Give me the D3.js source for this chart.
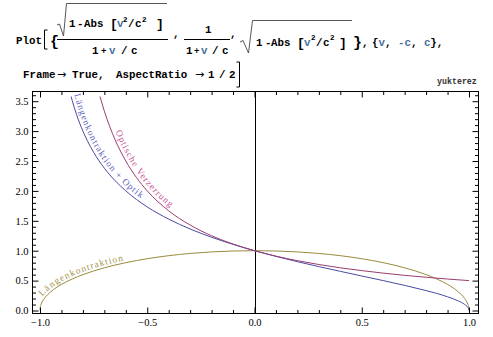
<!DOCTYPE html>
<html>
<head>
<meta charset="utf-8">
<script src="https://cdn.jsdelivr.net/npm/d3@7"></script>
<style>
  body { margin: 0; background: #fff; }
  svg { display: block; }
</style>
</head>
<body>
<svg id="chart" width="493" height="337"></svg>
<script>
// curve values (v in units of c)
const olivV = [-1, -0.999, -0.995, -0.98, -0.95, -0.9, -0.85, -0.8, -0.7, -0.6, -0.5, -0.4, -0.3, -0.2, -0.1, 0,
  0.1, 0.2, 0.3, 0.4, 0.5, 0.6, 0.7, 0.8, 0.85, 0.9, 0.95, 0.98, 0.995, 0.999, 1];
const olivY = [0, 0.045, 0.100, 0.199, 0.312, 0.436, 0.527, 0.6, 0.714, 0.8, 0.866, 0.917, 0.954, 0.980, 0.995, 1,
  0.995, 0.980, 0.954, 0.917, 0.866, 0.8, 0.714, 0.6, 0.527, 0.436, 0.312, 0.199, 0.100, 0.045, 0];

const blueV = [-0.87, -0.85, -0.83, -0.8, -0.78, -0.75, -0.7, -0.65, -0.6, -0.55, -0.5, -0.4, -0.3, -0.2, -0.1, 0,
  0.1, 0.2, 0.3, 0.4, 0.5, 0.6, 0.7, 0.8, 0.85, 0.9, 0.95, 0.98, 0.995, 0.999, 1];
const blueY = [3.793, 3.512, 3.281, 3, 2.845, 2.646, 2.380, 2.171, 2, 1.856, 1.732, 1.528, 1.363, 1.225, 1.106, 1,
  0.905, 0.816, 0.734, 0.655, 0.577, 0.5, 0.420, 0.333, 0.285, 0.229, 0.160, 0.1005, 0.050, 0.022, 0];

const pinkV = [-0.73, -0.7, -0.65, -0.6, -0.55, -0.5, -0.4, -0.3, -0.2, -0.1, 0,
  0.1, 0.2, 0.3, 0.4, 0.5, 0.6, 0.7, 0.8, 0.9, 1];
const pinkY = [3.704, 3.333, 2.857, 2.5, 2.222, 2, 1.667, 1.429, 1.25, 1.111, 1,
  0.909, 0.833, 0.769, 0.714, 0.667, 0.625, 0.588, 0.556, 0.526, 0.5];

const xMajor = [-1, -0.5, 0, 0.5, 1];
const yMajor = [0, 0.5, 1, 1.5, 2, 2.5, 3, 3.5];
const yClip = 3.58;

const svg = d3.select("#chart");
const serif = "'Liberation Serif', 'Times New Roman', serif";
const mono = "'Liberation Mono', 'DejaVu Sans Mono', monospace";

// ---- input cell -------------------------------------------------------
const ink = "#000", sym = "#4a6f9a";
const cell = svg.append("g").attr("font-family", mono).attr("font-weight", "bold").attr("font-size", 10.8);
function put(x, y, s, color, size) {
  return cell.append("text").attr("x", x).attr("y", y).attr("fill", color || ink)
    .attr("font-size", size || null).text(s);
}
function arrow(x, y) {
  put(x, y, "→", ink, 11).attr("font-family", "'DejaVu Sans', sans-serif").attr("font-weight", "normal");
}
put(16, 44, "Plot");
cell.append("path").attr("d", "M47.5,30 H44.5 V49 H47.5").attr("fill", "none").attr("stroke", "#000");
put(50, 46, "{", ink, 15);
// sqrt numerator / (1 + v/c)
cell.append("path").attr("d", "M57,25 L59.5,24 L63.5,36 L66.5,3.5 H167").attr("fill", "none").attr("stroke", "#444").attr("stroke-width", 0.9);
put(69, 27, "1"); put(77, 27, "-"); put(84, 27, "Abs"); put(110, 28, "[", ink, 13);
put(117, 27, "v", sym); put(123, 22, "2", ink, 7.5); put(128, 27, "/"); put(135, 27, "c"); put(142, 22, "2", ink, 7.5);
put(156, 28, "]", ink, 13);
cell.append("path").attr("d", "M57,39.5 H168").attr("stroke", "#000");
put(92, 54, "1"); put(101, 54, "+", ink, 9); put(109, 54, "v", sym); put(121, 54, "/"); put(131, 54, "c");
put(173, 37, ",");
// 1/(1 + v/c)
put(205, 33, "1");
cell.append("path").attr("d", "M184,39.5 H230").attr("stroke", "#000");
put(186, 54, "1"); put(194, 54, "+", ink, 9); put(201, 54, "v", sym); put(212, 54, "/"); put(222, 54, "c");
put(230, 37, ",");
// sqrt(1 - Abs[v^2/c^2])
cell.append("path").attr("d", "M240,42 L243,40.5 L248.5,53 L252.5,20.5 H352").attr("fill", "none").attr("stroke", "#444").attr("stroke-width", 0.9);
put(256, 46, "1"); put(265, 46, "-"); put(271, 46, "Abs"); put(297, 47, "[", ink, 13);
put(304, 46, "v", sym); put(311, 40, "2", ink, 7.5); put(316, 46, "/"); put(323, 46, "c"); put(330, 40, "2", ink, 7.5);
put(339, 47, "]", ink, 13);
put(353, 47, "}", ink, 15); put(362, 46, ",");
cell.append("text").attr("x", 372).attr("y", 46).attr("fill", ink)
  .call(t => {
    t.append("tspan").text("{");
    t.append("tspan").attr("fill", sym).text("v");
    t.append("tspan").text(", ");
    t.append("tspan").attr("fill", sym).text("-c");
    t.append("tspan").text(", ");
    t.append("tspan").attr("fill", sym).text("c");
    t.append("tspan").text("},");
  });
// second line
put(23, 78, "Frame"); arrow(57, 78); put(72, 78, "True,");
put(116, 78, "AspectRatio"); arrow(195, 78); put(208, 78, "1"); put(219, 78, "/"); put(229, 78, "2");
cell.append("path").attr("d", "M236.5,62 H239.5 V87 H236.5").attr("fill", "none").attr("stroke", "#000");
put(437, 84, "yukterez", "#333", 8.3);

// ---- plot -------------------------------------------------------------
const frame = { left: 32.5, right: 478.5, top: 91.5, bottom: 313.5 };
const x = d3.scaleLinear().domain([-1, 1]).range([40, 469]);
const y = d3.scaleLinear().domain([0, 3.5]).range([310.5, 101.2]);

svg.append("clipPath").attr("id", "clip").append("rect")
  .attr("x", frame.left).attr("y", y(yClip))
  .attr("width", frame.right - frame.left).attr("height", frame.bottom - y(yClip));

const line = d3.line().x(d => x(d[0])).y(d => y(d[1])).curve(d3.curveMonotoneX);
const series = [
  { id: "lk", v: olivV, val: olivY, stroke: "#998b3d", label: "Längenkontraktion", text: "#a3924a", offset: 13, dy: -2.5 },
  { id: "lo", v: blueV, val: blueY, stroke: "#4a4aa3", label: "Längenkontraktion + Optik", text: "#5f5fc0", offset: 12, dy: -3.5 },
  { id: "ov", v: pinkV, val: pinkY, stroke: "#993d71", label: "Optische Verzerrung", text: "#cc5599", offset: 46, dy: -3.5 }
];

// vertical axis at v = 0
svg.append("line").attr("x1", Math.round(x(0)) + 0.5).attr("x2", Math.round(x(0)) + 0.5)
  .attr("y1", frame.top).attr("y2", frame.bottom).attr("stroke", "#000");

const plot = svg.append("g").attr("clip-path", "url(#clip)");
series.forEach(s => {
  plot.append("path")
    .attr("id", s.id)
    .attr("d", line(d3.zip(s.v, s.val)))
    .attr("fill", "none")
    .attr("stroke", s.stroke)
    .attr("stroke-width", 1);
});

series.forEach(s => {
  svg.append("text")
    .attr("font-family", serif)
    .attr("font-size", 9.3)
    .attr("letter-spacing", 1.1)
    .attr("fill", s.text)
    .attr("dy", s.dy)
    .append("textPath")
    .attr("href", "#" + s.id)
    .attr("startOffset", s.offset)
    .text(s.label);
});

// frame + ticks
svg.append("rect")
  .attr("x", frame.left).attr("y", frame.top)
  .attr("width", frame.right - frame.left).attr("height", frame.bottom - frame.top)
  .attr("fill", "none").attr("stroke", "#000");

const xMinor = d3.range(-10, 11).map(d => d / 10).filter(d => !xMajor.includes(d));
const yMinor = d3.range(0, 37).map(d => d / 10).filter(d => !yMajor.includes(d));
const fmt = d3.format(".1f");

function axis(gen, scale, values, size, tr, labels, pad) {
  const g = svg.append("g").attr("transform", tr)
    .call(gen(scale).tickValues(values).tickSize(-size).tickPadding(pad || 3)
      .tickFormat(labels ? fmt : ""));
  g.select(".domain").remove();
  g.selectAll("line").attr("stroke", "#000");
  g.selectAll("text").attr("font-family", serif).attr("font-size", 10.5).attr("fill", "#000");
  return g;
}
axis(d3.axisBottom, x, xMajor, 6, `translate(0,${frame.bottom})`, true, 5);
axis(d3.axisBottom, x, xMinor, 3.5, `translate(0,${frame.bottom})`, false);
axis(d3.axisTop, x, xMajor, 6, `translate(0,${frame.top})`, false);
axis(d3.axisTop, x, xMinor, 3.5, `translate(0,${frame.top})`, false);
axis(d3.axisLeft, y, yMajor, 6, `translate(${frame.left},0)`, true, 4);
axis(d3.axisLeft, y, yMinor, 3.5, `translate(${frame.left},0)`, false);
axis(d3.axisRight, y, yMajor, 6, `translate(${frame.right},0)`, false);
axis(d3.axisRight, y, yMinor, 3.5, `translate(${frame.right},0)`, false);
</script>
</body>
</html>
